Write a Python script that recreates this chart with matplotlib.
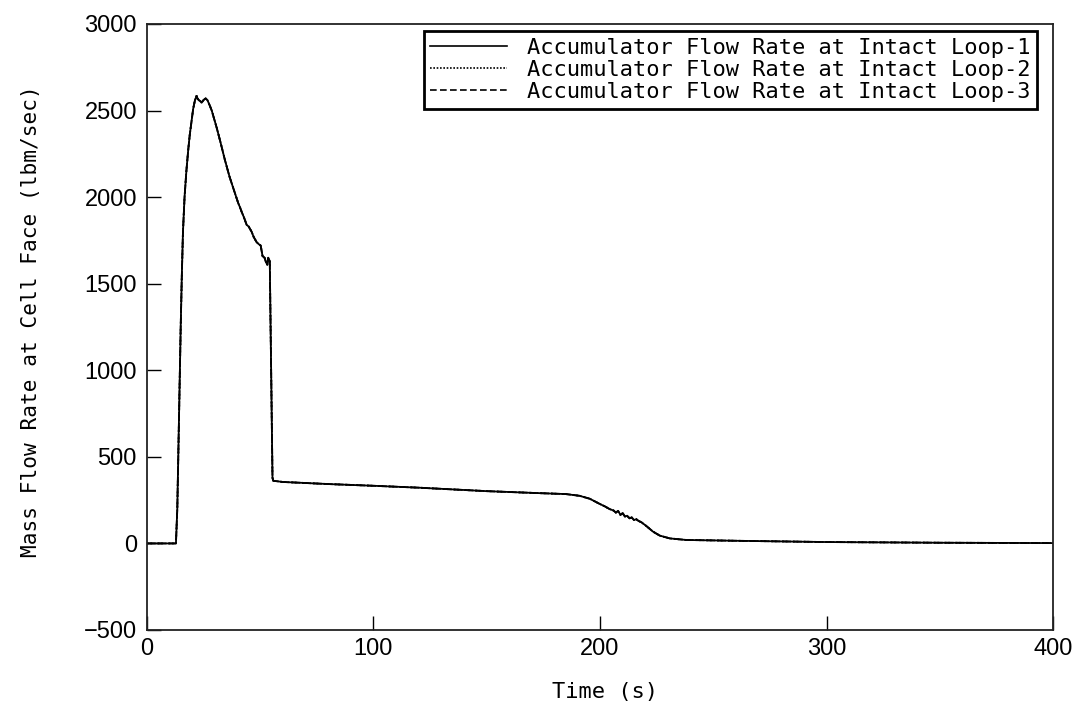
import matplotlib
matplotlib.use("Agg")
import matplotlib.pyplot as plt
from matplotlib.lines import Line2D

# ---- data ----
time_s = [0, 12.9, 13.5, 14.0, 14.5, 15.0, 15.5, 16.0, 16.7, 17.5, 18.3, 19.0,
          19.8, 20.5, 21.3, 22.0, 22.4, 23.0, 23.6, 24.2, 25.0, 26.0, 26.8,
          27.8, 28.7, 29.8, 30.9, 32.5, 34.5, 36.5, 38.5, 40.4, 41.2, 41.9,
          43.0, 44.1, 45.0, 46.3, 47.2, 48.5, 49.3, 50.3, 51.1, 52.0, 52.6,
          53.2, 53.6, 54.0, 54.3, 55.5, 55.8, 60, 80, 100, 120, 150, 170, 185,
          191, 195.5, 199.9, 202, 204.3, 206, 207, 208, 209, 210, 211, 212,
          213, 214, 215, 216, 217, 218.3, 220.5, 223.4, 226.4, 230.8, 238,
          261.6, 300, 350, 400]
loop1 = [0, 0, 200, 550, 900, 1250, 1550, 1800, 2000, 2150, 2270, 2360,
         2440, 2510, 2560, 2585, 2570, 2560, 2555, 2545, 2560, 2570, 2560,
         2530, 2500, 2450, 2400, 2320, 2215, 2120, 2040, 1965, 1940, 1915,
         1880, 1840, 1830, 1800, 1770, 1740, 1730, 1720, 1660, 1650, 1625,
         1610, 1650, 1640, 1630, 380, 362, 355, 343, 333, 322, 302, 292, 285,
         275, 258, 228, 215, 198, 190, 178, 188, 165, 175, 155, 160, 145,
         150, 135, 140, 130, 122, 100, 68, 45, 29, 20,
         15, 8, 4, 2]
# the three intact loops overlap in the reference
loop2 = list(loop1)
loop3 = list(loop1)

series_labels = ["Accumulator Flow Rate at Intact Loop-1",
                 "Accumulator Flow Rate at Intact Loop-2",
                 "Accumulator Flow Rate at Intact Loop-3"]
x_ticks = [0, 100, 200, 300, 400]
y_ticks = [-500, 0, 500, 1000, 1500, 2000, 2500, 3000]

label_font = "DejaVu Sans Mono"
tick_font = "Liberation Sans"

fig = plt.figure(figsize=(10.78, 7.13), dpi=100)
ax = fig.add_axes([146.7 / 1078, 83 / 713, 906.6 / 1078, 606 / 713])

ax.plot(time_s, loop3, color="black", lw=1.3, ls=(0, (4, 2)))
ax.plot(time_s, loop2, color="black", lw=1.3, ls=(0, (1, 1)))
ax.plot(time_s, loop1, color="black", lw=1.3, ls="-")

ax.set_xlim(0, 400)
ax.set_ylim(-500, 3000)
ax.set_xticks(x_ticks)
ax.set_yticks(y_ticks)
ax.tick_params(axis="both", direction="in", length=10, width=1.0,
               labelsize=17, top=False, right=False)
ax.tick_params(axis="x", pad=6)
ax.tick_params(axis="y", pad=7)
for lab in ax.get_xticklabels() + ax.get_yticklabels():
    lab.set_fontfamily(tick_font)
for sp in ax.spines.values():
    sp.set_linewidth(1.3)
    sp.set_color("#222222")

ax.set_xlabel("Time (s)", fontfamily=label_font, fontsize=15.8)
ax.set_ylabel("Mass Flow Rate at Cell Face (lbm/sec)",
              fontfamily=label_font, fontsize=15.2)
ax.xaxis.set_label_coords(0.505, -0.085)
ax.yaxis.set_label_coords(-0.117, 0.51)

handles = [Line2D([], [], color="black", lw=1.2, ls="-"),
           Line2D([], [], color="black", lw=1.2, ls=(0, (1, 1))),
           Line2D([], [], color="black", lw=1.2, ls=(0, (4, 2)))]
leg = ax.legend(handles, series_labels, loc="upper right",
                bbox_to_anchor=(1037 / 1078, 1 - 31 / 713),
                bbox_transform=fig.transFigure, borderaxespad=0,
                prop={"family": label_font, "size": 15.8},
                frameon=True, fancybox=False, handlelength=3.5,
                handletextpad=0.9, labelspacing=0.1, borderpad=0.3)
leg.get_frame().set_edgecolor("black")
leg.get_frame().set_linewidth(2.0)
leg.get_frame().set_alpha(1)

fig.savefig("out.png", dpi=100, facecolor="white")
